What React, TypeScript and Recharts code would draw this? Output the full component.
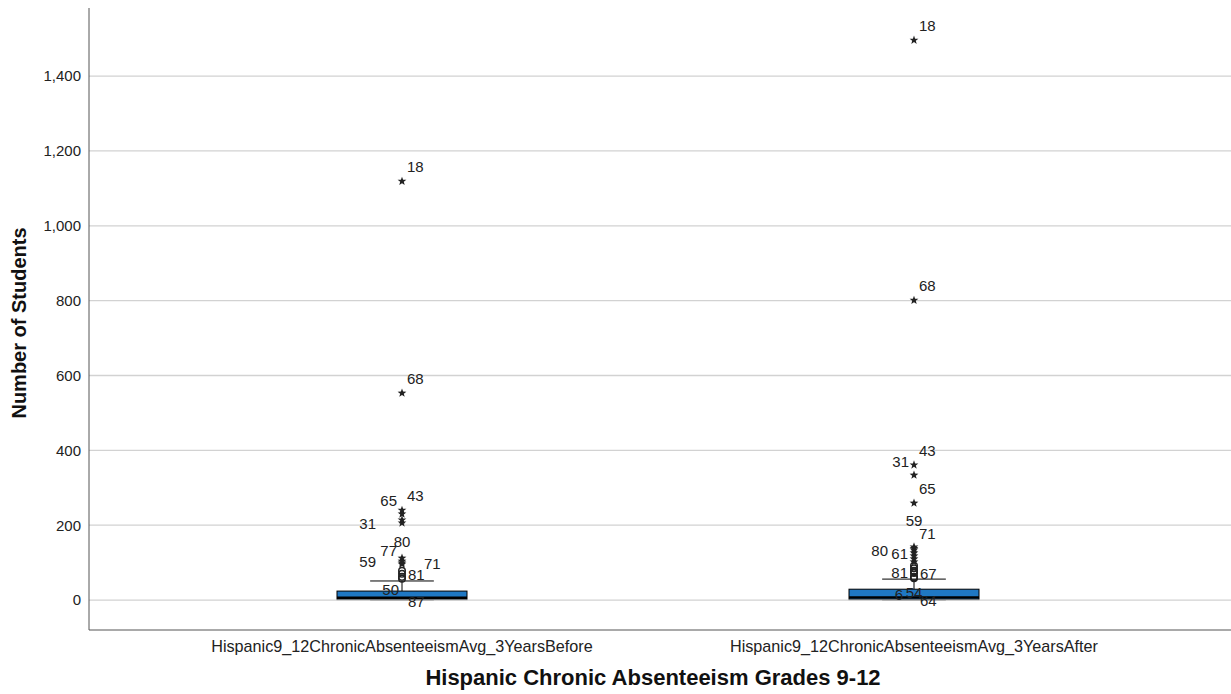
import { ComposedChart, Bar, Scatter, XAxis, YAxis, ReferenceLine } from 'recharts';

// box summaries, one entry per variable
const categories = [
  'Hispanic9_12ChronicAbsenteeismAvg_3YearsBefore',
  'Hispanic9_12ChronicAbsenteeismAvg_3YearsAfter',
];
const whiskerLow = [0, 0];
const q1 = [1, 1];
const median = [6, 7];
const q3 = [24, 29];
const whiskerHigh = [51, 56];

const yTicks = [0, 200, 400, 600, 800, 1000, 1200, 1400];

// outliers: value, case label, marker (star = extreme, circle = mild), label side
type Outlier = { v: number; id: string; mark: 'star' | 'circle'; side: string };

const outliersBefore: Outlier[] = [
  { v: 1119, id: '18', mark: 'star', side: 'ur' },
  { v: 553, id: '68', mark: 'star', side: 'ur' },
  { v: 240, id: '43', mark: 'star', side: 'ur' },
  { v: 230, id: '65', mark: 'star', side: 'ul' },
  { v: 214, id: '', mark: 'star', side: 'ur' },
  { v: 206, id: '31', mark: 'star', side: 'L' },
  { v: 112, id: '80', mark: 'star', side: 'u' },
  { v: 104, id: '59', mark: 'star', side: 'L' },
  { v: 99, id: '71', mark: 'star', side: 'R' },
  { v: 96, id: '77', mark: 'star', side: 'ul' },
  { v: 78, id: '', mark: 'circle', side: 'r' },
  { v: 70, id: '81', mark: 'circle', side: 'r' },
  { v: 62, id: '50', mark: 'circle', side: 'dl' },
  { v: 57, id: '87', mark: 'circle', side: 'dr' },
];

const outliersAfter: Outlier[] = [
  { v: 1496, id: '18', mark: 'star', side: 'ur' },
  { v: 801, id: '68', mark: 'star', side: 'ur' },
  { v: 361, id: '43', mark: 'star', side: 'ur' },
  { v: 334, id: '31', mark: 'star', side: 'ul' },
  { v: 259, id: '65', mark: 'star', side: 'ur' },
  { v: 142, id: '59', mark: 'star', side: 'uu' },
  { v: 138, id: '71', mark: 'star', side: 'ur' },
  { v: 134, id: '80', mark: 'star', side: 'L' },
  { v: 126, id: '61', mark: 'star', side: 'l' },
  { v: 118, id: '', mark: 'star', side: 'r' },
  { v: 110, id: '', mark: 'star', side: 'r' },
  { v: 102, id: '', mark: 'star', side: 'r' },
  { v: 92, id: '', mark: 'circle', side: 'r' },
  { v: 85, id: '', mark: 'circle', side: 'r' },
  { v: 78, id: '', mark: 'circle', side: 'r' },
  { v: 74, id: '81', mark: 'circle', side: 'l' },
  { v: 72, id: '67', mark: 'circle', side: 'r' },
  { v: 62, id: '54', mark: 'circle', side: 'd' },
  { v: 60, id: '6', mark: 'circle', side: 'dL' },
  { v: 58, id: '64', mark: 'circle', side: 'dr' },
];

const boxData = categories.map((name, i) => ({
  name,
  range: [whiskerLow[i], whiskerHigh[i]],
  lo: whiskerLow[i],
  q1: q1[i],
  med: median[i],
  q3: q3[i],
  hi: whiskerHigh[i],
}));

const FONT = "'Liberation Sans', Arial, sans-serif";
const BLUE = '#1f78c4';

const LABEL_POS: Record<string, [number, number, 'start' | 'end' | 'middle']> = {
  ur: [5, -9, 'start'],
  ul: [-5, -8, 'end'],
  u: [0, -11, 'middle'],
  uu: [0, -21, 'middle'],
  r: [6, 6, 'start'],
  l: [-6, 6, 'end'],
  R: [22, 6, 'start'],
  L: [-26, 6, 'end'],
  dl: [-3, 18, 'end'],
  dL: [-11, 22, 'end'],
  dr: [6, 28, 'start'],
  d: [0, 21, 'middle'],
};

function starPoints(cx: number, cy: number, ro: number, ri: number) {
  const pts: string[] = [];
  for (let k = 0; k < 10; k++) {
    const r = k % 2 === 0 ? ro : ri;
    const a = -Math.PI / 2 + (k * Math.PI) / 5;
    pts.push(`${cx + r * Math.cos(a)},${cy + r * Math.sin(a)}`);
  }
  return pts.join(' ');
}

function OutlierShape(props: any) {
  const { cx, cy, payload } = props;
  if (cx == null || cy == null) return null;
  const [dx, dy, anchor] = LABEL_POS[payload.side] || LABEL_POS.ur;
  return (
    <g>
      {payload.mark === 'star' ? (
        <polygon points={starPoints(cx, cy, 4.6, 1.9)} fill="#222" />
      ) : (
        <circle cx={cx} cy={cy} r={3.3} fill="none" stroke="#222" strokeWidth={1.4} />
      )}
      {payload.id && (
        <text x={cx + dx} y={cy + dy} textAnchor={anchor} fontSize={15} fill="#222" fontFamily={FONT}>
          {payload.id}
        </text>
      )}
    </g>
  );
}

// draws box, median and whiskers from the bar spanning [lo, hi]
function BoxShape(props: any) {
  const { x, y, width, height, payload } = props;
  const span = payload.hi - payload.lo;
  const ppu = span > 0 ? height / span : 0;
  const py = (v: number) => y + (payload.hi - v) * ppu;
  const cx = x + width / 2;
  const capW = width * 0.49;
  return (
    <g>
      <line x1={cx} x2={cx} y1={py(payload.hi)} y2={py(payload.q3)} stroke="#000" strokeWidth={1} />
      <line x1={cx} x2={cx} y1={py(payload.q1)} y2={py(payload.lo)} stroke="#000" strokeWidth={1} />
      <line x1={cx - capW / 2} x2={cx + capW / 2} y1={py(payload.hi)} y2={py(payload.hi)} stroke="#000" strokeWidth={1} />
      <line x1={cx - capW / 2} x2={cx + capW / 2} y1={py(payload.lo)} y2={py(payload.lo)} stroke="#000" strokeWidth={1} />
      <rect
        x={x}
        y={py(payload.q3)}
        width={width}
        height={py(payload.q1) - py(payload.q3)}
        fill={BLUE}
        stroke="#000"
        strokeWidth={1}
      />
      <line x1={x} x2={x + width} y1={py(payload.med)} y2={py(payload.med)} stroke="#000" strokeWidth={2.5} />
    </g>
  );
}

const fmt = (v: number) => v.toLocaleString('en-US');

export default function App() {
  return (
    <div style={{ position: 'absolute', left: 0, top: 0, background: '#fff', fontFamily: FONT }}>
      <ComposedChart
        width={1231}
        height={694}
        data={boxData}
        margin={{ top: 8, right: 0, bottom: 0, left: 0 }}
      >
        <XAxis
          dataKey="name"
          type="category"
          allowDuplicatedCategory={false}
          height={64}
          padding={{ left: 57, right: 61 }}
          tickLine={false}
          tickMargin={4}
          axisLine={{ stroke: '#555' }}
          tick={{ fontSize: 16.2, fill: '#222', fontFamily: FONT }}
          label={{
            content: ({ viewBox }: any) => (
              <text
                x={viewBox.x + viewBox.width / 2 - 7}
                y={viewBox.y + 55}
                textAnchor="middle"
                fontSize={22}
                fontWeight="bold"
                fill="#111"
                fontFamily={FONT}
              >
                Hispanic Chronic Absenteeism Grades 9-12
              </text>
            ),
          }}
        />
        <YAxis
          type="number"
          width={89}
          domain={[-80, 1582]}
          ticks={yTicks}
          allowDataOverflow
          tickFormatter={fmt}
          tickLine={false}
          axisLine={{ stroke: '#555' }}
          tick={{ fontSize: 15, fill: '#222', fontFamily: FONT }}
          label={{
            content: ({ viewBox }: any) => {
              const cx = viewBox.x + 19;
              const cy = viewBox.y + viewBox.height / 2 + 4;
              return (
                <text
                  x={cx}
                  y={cy}
                  transform={`rotate(-90 ${cx} ${cy})`}
                  textAnchor="middle"
                  dominantBaseline="central"
                  fontSize={20}
                  fontWeight="bold"
                  fill="#111"
                  fontFamily={FONT}
                >
                  Number of Students
                </text>
              );
            },
          }}
        />
        {yTicks.map((t) => (
          <ReferenceLine key={t} y={t} stroke="#d2d2d2" strokeWidth={1.3} />
        ))}
        <Bar dataKey="range" barSize={130} shape={<BoxShape />} isAnimationActive={false} />
        <Scatter
          data={outliersBefore.map((o) => ({ ...o, name: categories[0] }))}
          dataKey="v"
          shape={<OutlierShape />}
          isAnimationActive={false}
        />
        <Scatter
          data={outliersAfter.map((o) => ({ ...o, name: categories[1] }))}
          dataKey="v"
          shape={<OutlierShape />}
          isAnimationActive={false}
        />
      </ComposedChart>
    </div>
  );
}
